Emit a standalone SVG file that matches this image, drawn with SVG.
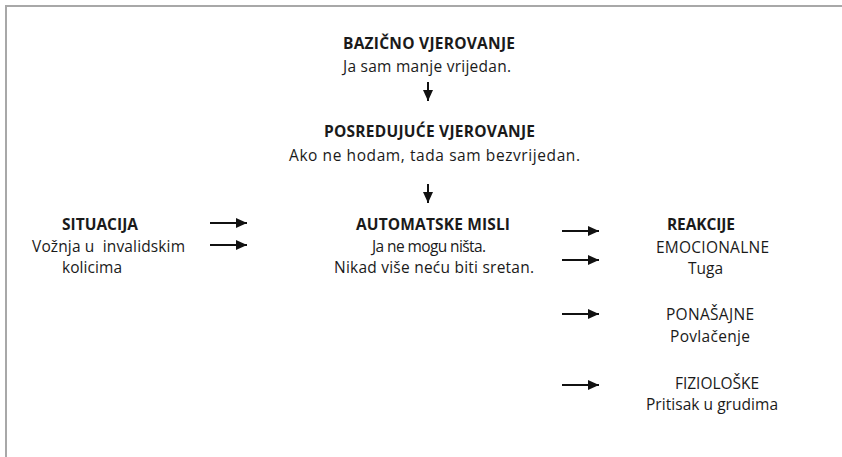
<svg xmlns="http://www.w3.org/2000/svg" width="842" height="457" viewBox="0 0 842 457">
<defs>
<marker id="ah" markerUnits="userSpaceOnUse" markerWidth="11" markerHeight="11" viewBox="0 0 11 11" refX="11" refY="5.5" orient="auto">
<path d="M0,0.5 L11,5.5 L0,10.5 Z" fill="#111"/>
</marker>
<style>
text{font-family:"Open Sans","Noto Sans","Liberation Sans",sans-serif;font-size:15.5px;fill:#1a1a1a}
.b{font-weight:bold}
.c{stroke:#111;stroke-width:2;fill:none;marker-end:url(#ah)}
</style>
</defs>
<rect width="842" height="457" fill="#fff"/>
<path d="M6,457 V6 H842" fill="none" stroke="#a8a8a8" stroke-width="2"/>
<g id="bazicno">
<text class="b" x="343" y="49" textLength="172">BAZIČNO VJEROVANJE</text>
<text x="343" y="72" textLength="168">Ja sam manje vrijedan.</text>
</g>
<g id="posredujuce">
<text class="b" x="324" y="137" textLength="211">POSREDUJUĆE VJEROVANJE</text>
<text x="289" y="161" textLength="291">Ako ne hodam, tada sam bezvrijedan.</text>
</g>
<g id="situacija">
<text class="b" x="62" y="230" textLength="76">SITUACIJA</text>
<text x="32" y="252" textLength="153" style="white-space:pre">Vožnja u  invalidskim</text>
<text x="62" y="273" textLength="60">kolicima</text>
</g>
<g id="automatske">
<text class="b" x="356" y="230" textLength="154">AUTOMATSKE MISLI</text>
<text x="372" y="252" textLength="114">Ja ne mogu ništa.</text>
<text x="334" y="273" textLength="200">Nikad više neću biti sretan.</text>
</g>
<g id="reakcije">
<text class="b" x="667" y="230" textLength="68">REAKCIJE</text>
<text x="656" y="253" textLength="113">EMOCIONALNE</text>
<text x="688" y="274" textLength="35">Tuga</text>
</g>
<g id="ponasajne">
<text x="666" y="320" textLength="88">PONAŠAJNE</text>
<text x="670" y="342" textLength="80">Povlačenje</text>
</g>
<g id="fizioloske">
<text x="675" y="389" textLength="84">FIZIOLOŠKE</text>
<text x="646" y="410" textLength="132">Pritisak u grudima</text>
</g>
<g id="connectors">
<line class="c" x1="428" y1="82" x2="428" y2="101"/>
<line class="c" x1="428" y1="184" x2="428" y2="203"/>
<line class="c" x1="210" y1="223" x2="247" y2="223"/>
<line class="c" x1="210" y1="245" x2="247" y2="245"/>
<line class="c" x1="562" y1="231" x2="599" y2="231"/>
<line class="c" x1="562" y1="260" x2="599" y2="260"/>
<line class="c" x1="562" y1="314" x2="599" y2="314"/>
<line class="c" x1="562" y1="385" x2="599" y2="385"/>
</g>
</svg>
